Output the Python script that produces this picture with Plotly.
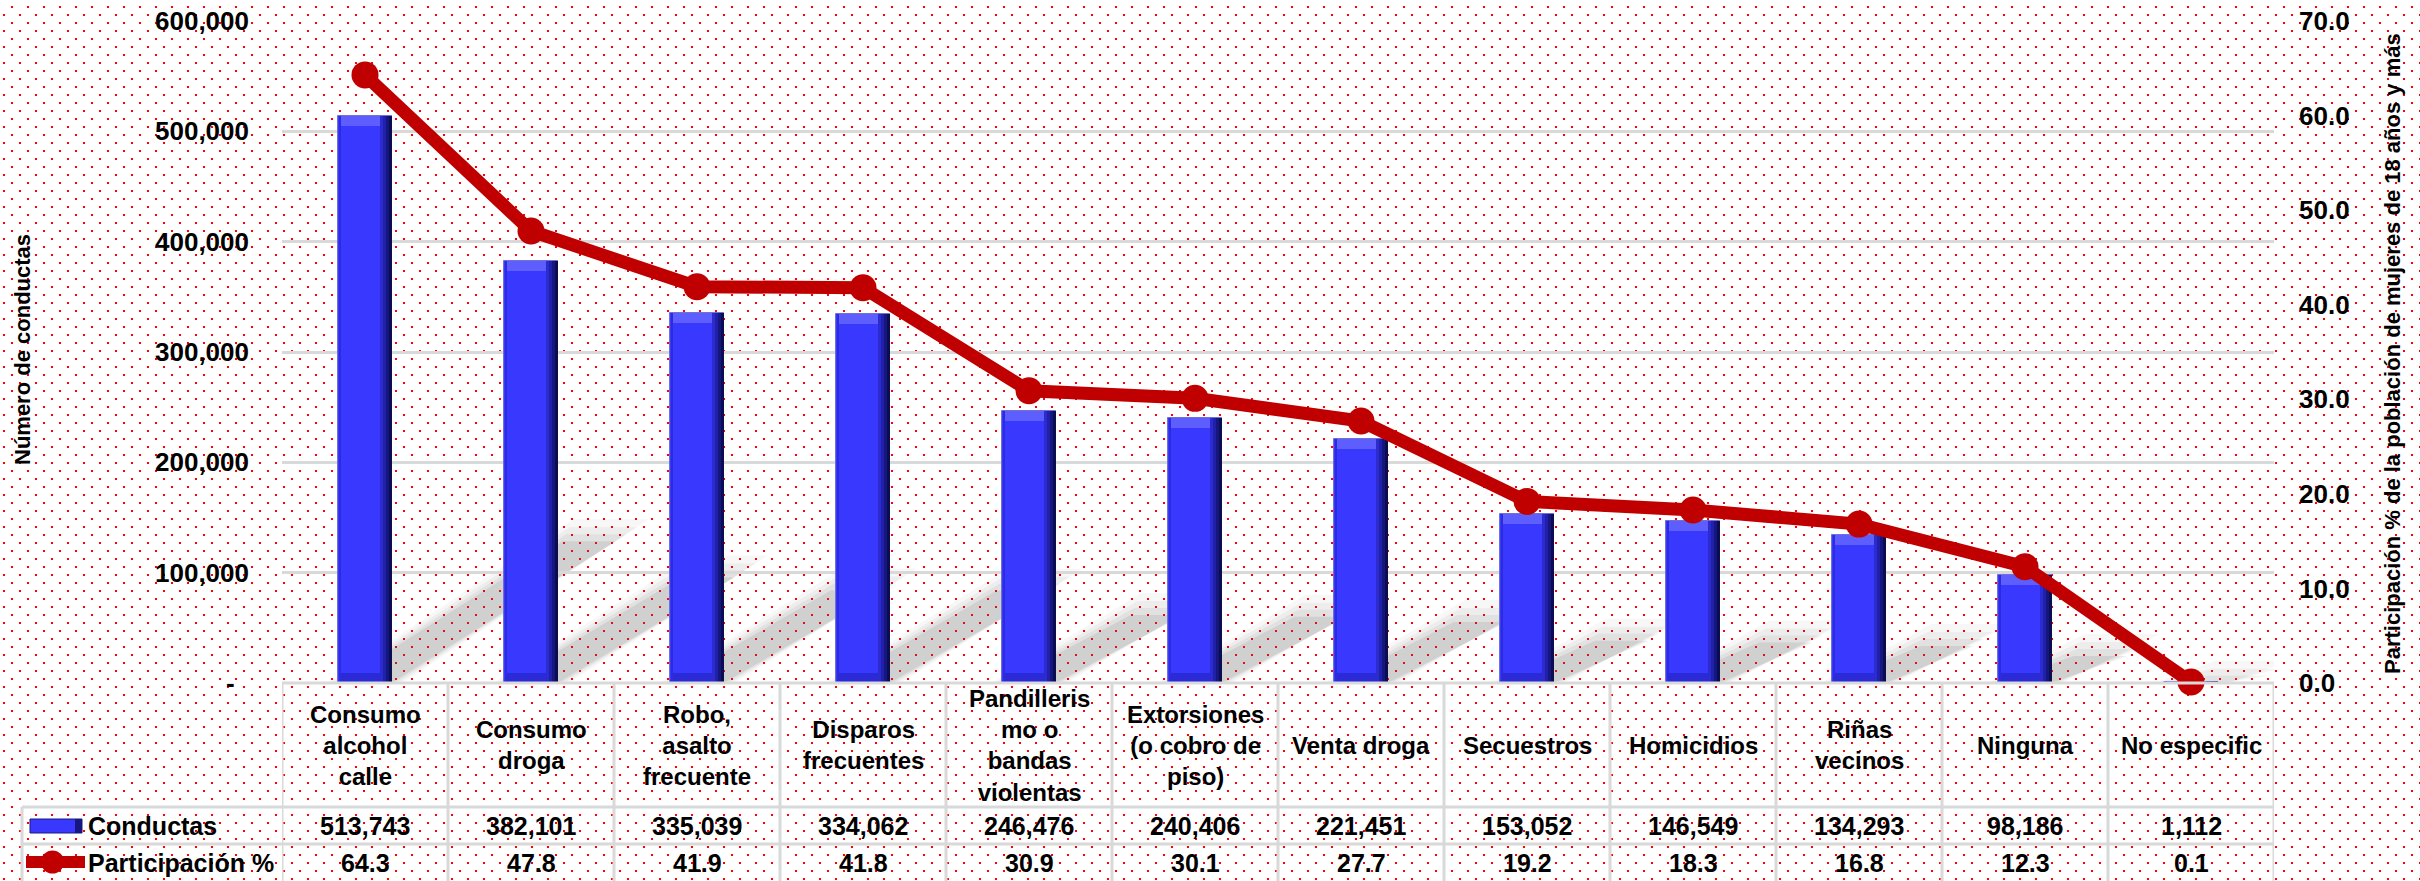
import base64
import plotly.graph_objects as go

# ---------------- data ----------------
categorias = [
    "Consumo<br>alcohol<br>calle", "Consumo<br>droga", "Robo,<br>asalto<br>frecuente",
    "Disparos<br>frecuentes", "Pandilleris<br>mo o<br>bandas<br>violentas",
    "Extorsiones<br>(o cobro de<br>piso)", "Venta droga", "Secuestros", "Homicidios",
    "Riñas<br>vecinos", "Ninguna", "No especific",
]
conductas = [513743, 382101, 335039, 334062, 246476, 240406, 221451, 153052, 146549, 134293, 98186, 1112]
participacion = [64.3, 47.8, 41.9, 41.8, 30.9, 30.1, 27.7, 19.2, 18.3, 16.8, 12.3, 0.1]
y1_ticks = [0, 100000, 200000, 300000, 400000, 500000, 600000]
y1_ticktext = ["-\u00a0\u00a0", "100,000", "200,000", "300,000", "400,000", "500,000", "600,000"]
y2_ticks = [0, 10, 20, 30, 40, 50, 60, 70]
serie_barras = "Conductas"
serie_linea = "Participación %"
titulo_y1 = "Número de conductas"
titulo_y2 = "Participación % de la población de mujeres de 18 años y más"

# ---------------- layout geometry ----------------
W, H = 2420, 881
L, R, T, B = 282, 146, 21, 198
PW, PH = W - L - R, H - T - B
Y0PIX = T + PH  # pixel y of axis bottom
Y1MAX, Y2MAX = 600000, 70
FONT = "Arial, 'Liberation Sans', sans-serif"
n = len(conductas)
x = list(range(n))
BW = 0.32


def px(X):
    return (X - L) / PW


def py(Y):
    return (Y0PIX - Y) / PH


fig = go.Figure()

# --- bevelled bars ---
bev = [min(9000, v * 0.3) for v in conductas]
fig.add_trace(go.Bar(x=x, y=conductas, width=BW, marker=dict(color="#3838FF", line=dict(color="#7070D8", width=1)),
                     showlegend=False, hoverinfo="skip"))
fig.add_trace(go.Bar(x=x, y=bev, base=[v - b for v, b in zip(conductas, bev)], width=BW - 0.03,
                     marker=dict(color="#5E5EFF", line=dict(width=0)), showlegend=False, hoverinfo="skip"))
fig.add_trace(go.Bar(x=x, y=bev, base=[0] * n, width=BW - 0.03,
                     marker=dict(color="#2A2AD6", line=dict(width=0)), showlegend=False, hoverinfo="skip"))
fig.add_trace(go.Bar(x=x, y=conductas, width=0.014, offset=-BW / 2 + 0.002,
                     marker=dict(color="#2C2CDC", line=dict(width=0)), showlegend=False, hoverinfo="skip"))
for k, col in enumerate(["#2B2BD0", "#2020A8", "#161680", "#0C0C50"]):
    fig.add_trace(go.Bar(x=x, y=conductas, width=0.018, offset=BW / 2 - 0.018 * (4 - k),
                         marker=dict(color=col, line=dict(width=0)), showlegend=False, hoverinfo="skip"))

# --- line ---
fig.add_trace(go.Scatter(x=x, y=participacion, yaxis="y2", mode="lines+markers",
                         line=dict(color="#C00000", width=13), marker=dict(color="#C00000", size=27),
                         cliponaxis=False, showlegend=False, hoverinfo="skip"))

shapes = []
# --- bar shadows (soft, drawn below) ---
ppu_y = PH / Y1MAX
for i, v in enumerate(conductas):
    hpx = v * ppu_y
    dy_px = 0.25 * hpx
    dx_px = 1.3 * dy_px + 40
    for grow, op in [(22, 0.05), (14, 0.06), (7, 0.08), (0, 0.12)]:
        xl = i - BW / 2 - grow / 166 * 0.5
        xr = i + BW / 2 + grow / 166 * 0.5
        dx = (dx_px + grow) / 166
        dy = (dy_px + grow) / ppu_y
        path = f"M {xl},0 L {xr},0 L {xr + dx},{dy} L {xl + dx},{dy} Z"
        shapes.append(dict(type="path", path=path, xref="x", yref="y", fillcolor="#5A5A5A",
                           opacity=op, line=dict(width=0), layer="below"))

# --- table lines ---
GRID = "#D9D9D9"
shapes.append(dict(type="line", xref="paper", yref="paper", x0=0, x1=1, y0=0, y1=0,
                   line=dict(color=GRID, width=3)))
for Y in (807, 844):
    shapes.append(dict(type="line", xref="paper", yref="paper", x0=px(22), x1=1, y0=py(Y), y1=py(Y),
                       line=dict(color=GRID, width=3)))
shapes.append(dict(type="line", xref="paper", yref="paper", x0=px(22), x1=px(22), y0=py(807), y1=py(H),
                   line=dict(color=GRID, width=3)))
for i in range(n + 1):
    shapes.append(dict(type="line", xref="x", yref="paper", x0=i - 0.5, x1=i - 0.5, y0=0, y1=py(H),
                       line=dict(color=GRID, width=3)))

# --- legend icons in table ---
shapes.append(dict(type="rect", xref="paper", yref="paper", x0=px(30), x1=px(82), y0=py(833), y1=py(819),
                   fillcolor="#3838FF", line=dict(color="#1A1A80", width=1)))
shapes.append(dict(type="rect", xref="paper", yref="paper", x0=px(75), x1=px(82), y0=py(833), y1=py(819),
                   fillcolor="#161680", line=dict(width=0)))
shapes.append(dict(type="line", xref="paper", yref="paper", x0=px(26), x1=px(85), y0=py(862), y1=py(862),
                   line=dict(color="#C00000", width=12)))
shapes.append(dict(type="circle", xref="paper", yref="paper", x0=px(41), x1=px(64), y0=py(873.5), y1=py(850.5),
                   fillcolor="#C00000", line=dict(width=0)))

annotations = []
for i, (c, v, p) in enumerate(zip(categorias, conductas, participacion)):
    annotations.append(dict(x=i, xref="x", y=py(745), yref="paper", text=f"<b>{c}</b>", showarrow=False,
                            font=dict(size=24, color="black", family=FONT), yanchor="middle"))
    annotations.append(dict(x=i, xref="x", y=py(826), yref="paper", text=f"<b>{v:,}</b>", showarrow=False,
                            font=dict(size=25, color="black", family=FONT), yanchor="middle"))
    annotations.append(dict(x=i, xref="x", y=py(863), yref="paper", text=f"<b>{p:.1f}</b>", showarrow=False,
                            font=dict(size=25, color="black", family=FONT), yanchor="middle"))
annotations.append(dict(x=px(86), xref="paper", y=py(826), yref="paper", text=f"<b>{serie_barras}</b>",
                        showarrow=False, xanchor="left", yanchor="middle",
                        font=dict(size=25, color="black", family=FONT)))
annotations.append(dict(x=px(86), xref="paper", y=py(863), yref="paper", text=f"<b>{serie_linea}</b>",
                        showarrow=False, xanchor="left", yanchor="middle",
                        font=dict(size=25, color="black", family=FONT)))
annotations.append(dict(x=px(22), xref="paper", y=py(350), yref="paper", text=f"<b>{titulo_y1}</b>",
                        showarrow=False, textangle=-90, xanchor="center", yanchor="middle",
                        font=dict(size=22, color="black", family=FONT)))
annotations.append(dict(x=px(2392), xref="paper", y=py(354), yref="paper", text=f"<b>{titulo_y2}</b>",
                        showarrow=False, textangle=-90, xanchor="center", yanchor="middle",
                        font=dict(size=22, color="black", family=FONT)))

# --- dotted background ---
svg = (f'<svg xmlns="http://www.w3.org/2000/svg" width="{W}" height="{H}">'
       '<defs><pattern id="p" width="16" height="16" patternUnits="userSpaceOnUse">'
       '<rect x="11" y="6" width="2" height="2" fill="#FF0000"/>'
       '<rect x="3" y="14" width="2" height="2" fill="#FF0000"/></pattern></defs>'
       f'<rect width="{W}" height="{H}" fill="#FFFFFF"/>'
       f'<rect width="{W}" height="{H}" fill="url(#p)"/></svg>')
src = "data:image/svg+xml;base64," + base64.b64encode(svg.encode()).decode()

fig.update_layout(
    width=W, height=H,
    margin=dict(l=L, r=R, t=T, b=B, autoexpand=False),
    paper_bgcolor="white", plot_bgcolor="rgba(0,0,0,0)",
    barmode="overlay", bargap=0,
    showlegend=False,
    font=dict(family=FONT, color="black"),
    images=[dict(source=src, xref="paper", yref="paper", x=px(0), y=py(0), sizex=W / PW, sizey=H / PH,
                 xanchor="left", yanchor="top", sizing="stretch", layer="below")],
    xaxis=dict(range=[-0.5, n - 0.5], showticklabels=False, showgrid=False, zeroline=False, showline=False,
               ticks=""),
    yaxis=dict(range=[0, Y1MAX], tickvals=y1_ticks, ticktext=y1_ticktext, showgrid=True, gridcolor=GRID,
               gridwidth=3, zeroline=False, showline=False, ticks="", ticklabelstandoff=32,
               tickfont=dict(size=26, color="black", family=FONT, weight="bold")),
    yaxis2=dict(range=[0, Y2MAX], overlaying="y", side="right", tickvals=y2_ticks,
                ticktext=[f"{t:.1f}" for t in y2_ticks], showgrid=False, zeroline=False, showline=False,
                ticks="", ticklabelstandoff=24,
                tickfont=dict(size=26, color="black", family=FONT, weight="bold")),
    shapes=shapes,
    annotations=annotations,
)

fig.write_html("out.html", config={"displayModeBar": False},
               post_script="document.body.style.margin='0px';document.body.style.overflow='hidden';")
